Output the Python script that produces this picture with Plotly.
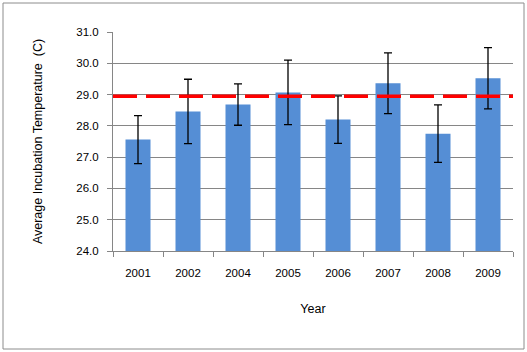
import plotly.graph_objects as go

years = ["2001", "2002", "2004", "2005", "2006", "2007", "2008", "2009"]
mean_temp = [27.56, 28.46, 28.68, 29.07, 28.20, 29.36, 27.75, 29.52]
err = [0.77, 1.03, 0.66, 1.03, 0.76, 0.97, 0.92, 0.98]
overall_mean = 28.95
y_ticks = [24.0, 25.0, 26.0, 27.0, 28.0, 29.0, 30.0, 31.0]

W, H = 527, 352
L, R, T, B = 113, 14, 32, 101
pw, ph = W - L - R, H - T - B

fig = go.Figure()
fig.add_trace(go.Bar(
    x=years, y=mean_temp,
    marker=dict(color="#558ED5", line=dict(width=0)),
    error_y=dict(type="data", array=err, visible=True, color="black",
                 thickness=1.3, width=4),
    showlegend=False,
))

fig.add_shape(type="line", xref="x domain", yref="y",
              x0=0, x1=1, y0=overall_mean, y1=overall_mean,
              line=dict(color="#FF0000", width=3.5, dash="24px,9px"))

# outer chart border
fig.add_shape(type="rect", xref="paper", yref="paper",
              x0=(3 - L) / pw, x1=(524 - L) / pw,
              y0=(H - B - 349) / ph, y1=(H - B - 3) / ph,
              line=dict(color="#8C8C8C", width=1), fillcolor="rgba(0,0,0,0)",
              layer="below")

font = dict(family="Arial, Liberation Sans, sans-serif", color="black")

fig.update_layout(
    width=W, height=H,
    margin=dict(l=L, r=R, t=T, b=B, autoexpand=False),
    paper_bgcolor="white", plot_bgcolor="white",
    bargap=0.5,
    font=font,
    xaxis=dict(
        type="category",
        showline=True, linecolor="#868686", linewidth=1,
        ticks="outside", tickson="boundaries", ticklen=5, tickcolor="#868686",
        tickfont=dict(size=11.5, family=font["family"], color="black"),
        ticklabelstandoff=11,
        showgrid=False,
        title=dict(text="Year", font=dict(size=12.5, family=font["family"]), standoff=26),
        automargin=False,
    ),
    yaxis=dict(
        range=[24, 31], tickvals=y_ticks, tickformat=".1f",
        showline=True, linecolor="#868686", linewidth=1,
        ticks="outside", ticklen=5, tickcolor="#868686",
        showgrid=True, gridcolor="#868686", gridwidth=1,
        tickfont=dict(size=11.5, family=font["family"], color="black"),
        ticklabelstandoff=6,
        zeroline=False,
        title=dict(text="Average Incubation Temperature  (C)",
                   font=dict(size=12.5, family=font["family"]), standoff=30),
        automargin=False,
    ),
)

fig.write_html("out.html")
